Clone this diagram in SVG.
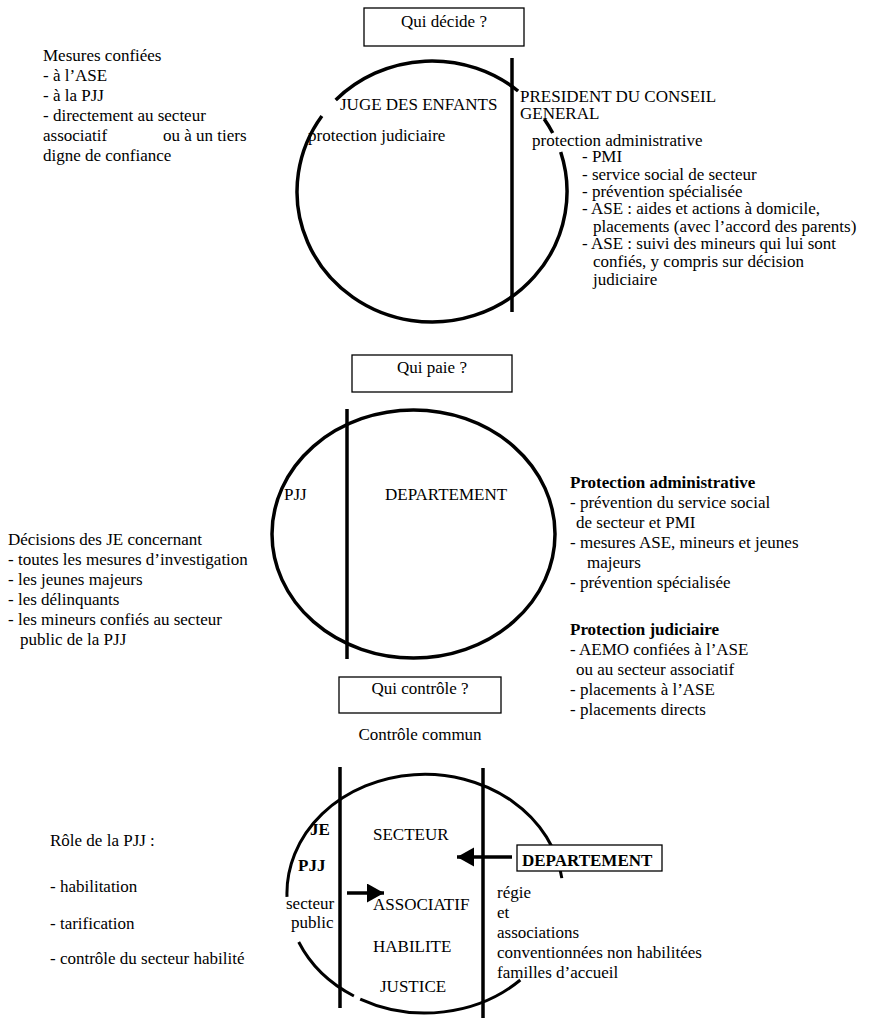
<svg xmlns="http://www.w3.org/2000/svg" width="870" height="1019" viewBox="0 0 870 1019">
<style>
.t{font-family:"Liberation Serif","Times New Roman",serif;font-size:17px;fill:#000}
.b{font-weight:bold}
.m{text-anchor:middle}
.ring{fill:none;stroke:#000;stroke-width:3.5}
.ring2{fill:none;stroke:#000;stroke-width:3}
.bar{stroke:#000;stroke-width:3.5;fill:none}
.box{fill:#fff;stroke:#000;stroke-width:1.3}
.arr{stroke:#000;stroke-width:3.5;fill:none}
</style>
<defs>
<marker id="ah" markerUnits="userSpaceOnUse" markerWidth="18" markerHeight="20" refX="17" refY="9.5" orient="auto">
<path d="M0,0 L17,9.5 L0,19 Z" fill="#000"/>
</marker>
</defs>
<rect width="870" height="1019" fill="#fff"/>

<!-- Section 1: Qui décide ? -->
<g id="decide">
<rect class="box" x="364" y="8" width="160" height="38"/>
<text class="t m" x="444" y="27">Qui décide ?</text>
<path class="ring" d="M560.7,152 A135,130.5 0 1 1 321.9,116"/>
<path class="ring" d="M335.7,100 A135,130.5 0 0 1 518.1,91"/>
<path class="ring" d="M544.2,119 A135,130.5 0 0 1 552.7,133"/>
<line class="bar" x1="512" y1="58" x2="512" y2="312"/>
<text class="t" x="340" y="110">JUGE DES ENFANTS</text>
<text class="t" x="308" y="141">protection judiciaire</text>
<text class="t" x="520" y="102">PRESIDENT DU CONSEIL</text>
<text class="t" x="520" y="119">GENERAL</text>
<text class="t" x="532" y="146">protection administrative</text>
<text class="t" x="582" y="162">- PMI</text>
<text class="t" x="582" y="180">- service social de secteur</text>
<text class="t" x="582" y="197">- prévention spécialisée</text>
<text class="t" x="582" y="214">- ASE : aides et actions à domicile,</text>
<text class="t" x="593" y="232">placements (avec l’accord des parents)</text>
<text class="t" x="582" y="249">- ASE : suivi des mineurs qui lui sont</text>
<text class="t" x="593" y="267">confiés, y compris sur décision</text>
<text class="t" x="593" y="285">judiciaire</text>
</g>
<g id="mesures">
<text class="t" x="43" y="61">Mesures confiées</text>
<text class="t" x="43" y="81">- à l’ASE</text>
<text class="t" x="43" y="101">- à la PJJ</text>
<text class="t" x="43" y="121">- directement au secteur</text>
<text class="t" x="43" y="141">associatif</text>
<text class="t" x="163" y="141">ou à un tiers</text>
<text class="t" x="43" y="161">digne de confiance</text>
</g>

<!-- Section 2: Qui paie ? -->
<g id="paie">
<rect class="box" x="352" y="355" width="160" height="37"/>
<text class="t m" x="432" y="373">Qui paie ?</text>
<ellipse class="ring" cx="413.5" cy="534" rx="141.5" ry="124"/>
<line class="bar" x1="347" y1="409" x2="347" y2="659"/>
<text class="t" x="284" y="500">PJJ</text>
<text class="t" x="385" y="500">DEPARTEMENT</text>
</g>
<g id="decisions-je">
<text class="t" x="8" y="545">Décisions des JE concernant</text>
<text class="t" x="8" y="565">- toutes les mesures d’investigation</text>
<text class="t" x="8" y="585">- les jeunes majeurs</text>
<text class="t" x="8" y="605">- les délinquants</text>
<text class="t" x="8" y="625">- les mineurs confiés au secteur</text>
<text class="t" x="20" y="645">public de la PJJ</text>
</g>
<g id="protections">
<text class="t b" x="570" y="488">Protection administrative</text>
<text class="t" x="570" y="508">- prévention du service social</text>
<text class="t" x="576" y="528">de secteur et PMI</text>
<text class="t" x="570" y="548">- mesures ASE, mineurs et jeunes</text>
<text class="t" x="587" y="568">majeurs</text>
<text class="t" x="570" y="588">- prévention spécialisée</text>
<text class="t b" x="570" y="635">Protection judiciaire</text>
<text class="t" x="570" y="655">- AEMO confiées à l’ASE</text>
<text class="t" x="576" y="675">ou au secteur associatif</text>
<text class="t" x="570" y="695">- placements à l’ASE</text>
<text class="t" x="570" y="715">- placements directs</text>
</g>

<!-- Section 3: Qui contrôle ? -->
<g id="controle">
<rect class="box" x="339" y="677" width="162" height="36"/>
<text class="t m" x="420" y="694">Qui contrôle ?</text>
<text class="t m" x="420" y="740">Contrôle commun</text>
<path class="ring2" d="M520.3,980 A138,119 0 0 1 360.2,999.1"/>
<path class="ring2" d="M353.9,996 A138,119 0 0 1 298.7,942"/>
<path class="ring2" d="M287,896.9 A138,119 0 0 1 561.8,878.1"/>
<line class="bar" x1="340" y1="767" x2="340" y2="1008"/>
<line class="bar" x1="483" y1="768" x2="483" y2="1018"/>
<text class="t b" x="310" y="835">JE</text>
<text class="t b" x="298" y="871">PJJ</text>
<text class="t" x="286" y="909">secteur</text>
<text class="t" x="291" y="928">public</text>
<text class="t" x="373" y="840">SECTEUR</text>
<text class="t" x="373" y="910">ASSOCIATIF</text>
<text class="t" x="373" y="952">HABILITE</text>
<text class="t" x="380" y="992">JUSTICE</text>
<text class="t" x="497" y="898">régie</text>
<text class="t" x="497" y="918">et</text>
<text class="t" x="497" y="938">associations</text>
<text class="t" x="497" y="958">conventionnées non habilitées</text>
<text class="t" x="497" y="978">familles d’accueil</text>
</g>
<g id="departement">
<rect class="box" x="517" y="845" width="145" height="26"/>
<text class="t b" x="522" y="866">DEPARTEMENT</text>
</g>
<g id="role-pjj">
<text class="t" x="50" y="846">Rôle de la PJJ :</text>
<text class="t" x="50" y="892">- habilitation</text>
<text class="t" x="50" y="929">- tarification</text>
<text class="t" x="50" y="964">- contrôle du secteur habilité</text>
</g>

<g id="connectors">
<line class="arr" x1="347" y1="893" x2="384" y2="893" marker-end="url(#ah)"/>
<line class="arr" x1="512" y1="857" x2="457" y2="857" marker-end="url(#ah)"/>
</g>
</svg>
